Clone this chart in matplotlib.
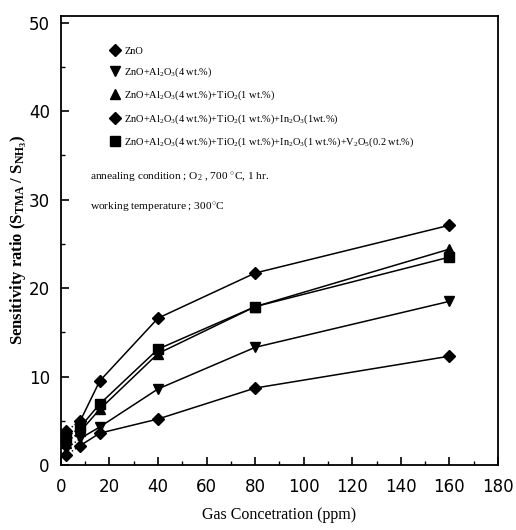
#!/usr/bin/env python3
"""Sensitivity ratio vs gas concentration for doped ZnO sensors."""

import matplotlib
matplotlib.use('Agg')
import matplotlib.pyplot as plt
from matplotlib.ticker import MultipleLocator

plt.rcParams['font.family'] = ['Liberation Serif', 'DejaVu Serif']
plt.rcParams['mathtext.fontset'] = 'custom'
plt.rcParams['mathtext.rm'] = 'Liberation Serif'
plt.rcParams['mathtext.it'] = 'Liberation Serif:italic'
plt.rcParams['mathtext.bf'] = 'Liberation Serif:bold'

# data
conc = [2, 8, 16, 40, 80, 160]
s_zno = [1.1, 2.2, 3.6, 5.2, 8.7, 12.3]
s_al = [1.8, 3.0, 4.3, 8.6, 13.3, 18.5]
s_ti = [2.5, 3.8, 6.3, 12.6, 17.9, 24.4]
s_in = [3.8, 5.0, 9.5, 16.6, 21.7, 27.1]
s_v = [3.0, 4.3, 6.9, 13.1, 17.9, 23.5]

labels = [
    'ZnO',
    'ZnO+Al$_2$O$_3$(4 wt.%)',
    'ZnO+Al$_2$O$_3$(4 wt.%)+TiO$_2$(1 wt.%)',
    'ZnO+Al$_2$O$_3$(4 wt.%)+TiO$_2$(1 wt.%)+In$_2$O$_3$(1wt.%)',
    'ZnO+Al$_2$O$_3$(4 wt.%)+TiO$_2$(1 wt.%)+In$_2$O$_3$(1 wt.%)+V$_2$O$_5$(0.2 wt.%)',
]
series = [s_zno, s_al, s_ti, s_in, s_v]
markers = ['D', 'v', '^', 'D', 's']
msizes = [6.5, 7.5, 7.5, 6.5, 7]

fig = plt.figure(figsize=(5.16, 5.30), dpi=100)
ax = fig.add_axes([0.118, 0.1226, 0.847, 0.848])

for ys, m, ms, lab in zip(series, markers, msizes, labels):
    # dotted between the first two points, solid afterwards
    ax.plot(conc[:2], ys[:2], color='black', linestyle=':', linewidth=1.0)
    ax.plot(conc[1:], ys[1:], color='black', linestyle='-', linewidth=1.1)
    ax.plot(conc, ys, linestyle='none', marker=m, markersize=ms,
            color='black', label=lab)

ax.set_xlim(0, 180)
ax.set_ylim(0, 50.8)
ax.xaxis.set_major_locator(MultipleLocator(20))
ax.xaxis.set_minor_locator(MultipleLocator(10))
ax.yaxis.set_minor_locator(MultipleLocator(5))
ax.set_yticks([0, 10, 20, 30, 40, 50])
ax.tick_params(which='both', direction='in', top=False, right=False)
ax.tick_params(which='major', length=6, width=1.2)
ax.tick_params(axis='x', which='major', pad=9)
ax.tick_params(axis='y', which='major', pad=8)
ax.tick_params(which='minor', length=3, width=1.0)
for sp in ax.spines.values():
    sp.set_linewidth(1.3)

for t in ax.get_xticklabels() + ax.get_yticklabels():
    t.set_family('DejaVu Sans')
    t.set_fontsize(12)

ax.set_xlabel('Gas Concetration (ppm)', fontsize=11.5, labelpad=8)
ax.set_ylabel('Sensitivity ratio (S$_{\\mathbf{TMA}}$ / S$_{\\mathbf{NH_3}}$)',
              fontsize=12, fontweight='bold')
ax.yaxis.set_label_coords(-0.072, 0.5)

ax.legend(loc='upper left', bbox_to_anchor=(0.105, 0.941), frameon=False,
          fontsize=7.5, handlelength=0.8, handletextpad=0.5,
          labelspacing=0.95, borderaxespad=0)

ax.text(0.066, 0.641, 'annealing condition ; O$_2$ , 700 $^{\\circ}$C, 1 hr.',
        transform=ax.transAxes, fontsize=8.2, va='center')
ax.text(0.066, 0.574, 'working temperature ; 300$^{\\circ}$C',
        transform=ax.transAxes, fontsize=8.2, va='center')

plt.savefig('out.png', dpi=100, facecolor='white')
plt.close()
